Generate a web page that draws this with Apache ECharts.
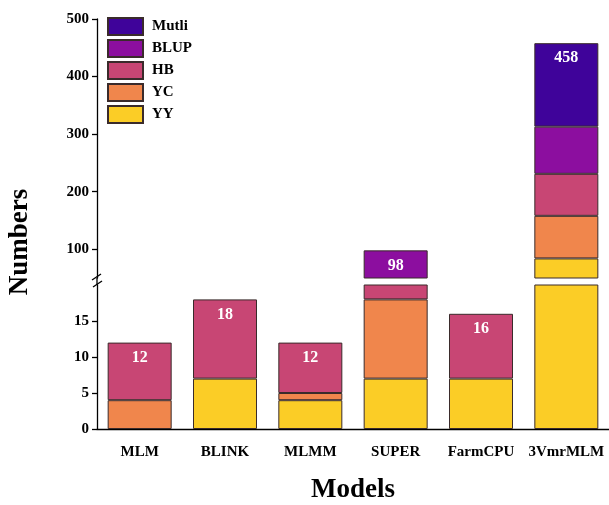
<!DOCTYPE html>
<html>
<head>
<meta charset="utf-8">
<script src="https://cdn.jsdelivr.net/npm/echarts@6/dist/echarts.min.js"></script>
<style>
html,body{margin:0;padding:0;background:#fff;}
#chart{width:609px;height:505px;}
</style>
</head>
<body>
<div id="chart"></div>
<script>
// ---- data ----
var categories = ['MLM', 'BLINK', 'MLMM', 'SUPER', 'FarmCPU', '3VmrMLM'];
var seriesNames = ['YY', 'YC', 'HB', 'BLUP', 'Mutli'];
var YY    = [0, 7, 4, 7, 7, 84];
var YC    = [4, 0, 1, 11, 0, 74];
var HB    = [8, 11, 7, 15, 9, 73];
var BLUP  = [0, 0, 0, 65, 0, 82];
var Mutli = [0, 0, 0, 0, 0, 145];
var lowerTicks = [0, 5, 10, 15];
var lowerMinor = [2.5, 7.5, 12.5, 17.5];
var upperTicks = [100, 200, 300, 400, 500];
var upperMinor = [150, 250, 350, 450];
var legendOrder = ['Mutli', 'BLUP', 'HB', 'YC', 'YY'];

var values = [YY, YC, HB, BLUP, Mutli];
var colors = ['#FBCD26', '#F0864C', '#C84674', '#8C0E9F', '#3F039A'];
var LOWER_MAX = 20;

var totals = categories.map(function (c, i) {
  var s = 0; values.forEach(function (v) { s += v[i]; }); return s;
});
// topmost non-zero series per category
var topSeries = categories.map(function (c, i) {
  var t = 0; values.forEach(function (v, k) { if (v[i] > 0) t = k; }); return t;
});

var font = 'Liberation Serif, Times New Roman, serif';

function buildData(k, lower) {
  return values[k].map(function (v, i) {
    var item = { value: v === 0 ? '-' : v };
    var inThisGrid = lower ? totals[i] <= LOWER_MAX : totals[i] > LOWER_MAX;
    if (topSeries[i] === k && inThisGrid) {
      item.label = {
        show: true, position: 'insideTop', distance: 7,
        formatter: String(totals[i]),
        color: '#fff', fontFamily: font, fontWeight: 'bold', fontSize: 16
      };
    }
    return item;
  });
}

var series = [];
[true, false].forEach(function (lower) {
  seriesNames.forEach(function (name, k) {
    series.push({
      type: 'bar', name: name,
      xAxisIndex: lower ? 0 : 2, yAxisIndex: lower ? 0 : 2,
      stack: lower ? 'lo' : 'hi',
      barWidth: 64, clip: true,
      itemStyle: { color: colors[k], borderColor: '#3a2b2b', borderWidth: 1 },
      emphasis: { disabled: true },
      data: buildData(k, lower)
    });
  });
});

var axisLineStyle = { color: '#000', width: 1.3 };
var tickLabel = { color: '#000', fontFamily: font, fontWeight: 'bold', fontSize: 15 };

var option = {
  animation: false,
  backgroundColor: '#fff',
  legend: {
    data: legendOrder, orient: 'vertical', left: 107, top: 17, padding: 0,
    itemWidth: 35, itemHeight: 17, itemGap: 3, icon: 'rect',
    textStyle: { color: '#000', fontFamily: font, fontWeight: 'bold', fontSize: 15, padding: [0, 0, 0, 4] }
  },
  grid: [
    { left: 97, top: 285, width: 514, height: 148, containLabel: false },
    { left: 97, top: 19, width: 514, height: 259, containLabel: false }
  ],
  xAxis: [
    {
      type: 'category', gridIndex: 0, data: categories,
      axisLine: { lineStyle: axisLineStyle },
      axisTick: { alignWithLabel: true, length: 6, lineStyle: { color: '#000', width: 1.3 } },
      axisLabel: Object.assign({ margin: 16, interval: 0 }, tickLabel),
      name: 'Models', nameLocation: 'middle', nameGap: 48,
      nameTextStyle: { color: '#000', fontFamily: font, fontWeight: 'bold', fontSize: 27 }
    },
    {
      type: 'category', gridIndex: 0, data: categories,
      axisLine: { show: false },
      axisTick: { length: 3, interval: 0, lineStyle: { color: '#000', width: 1.2 } },
      axisLabel: { show: false }
    },
    { type: 'category', gridIndex: 1, data: categories, show: false }
  ],
  yAxis: [
    {
      type: 'value', gridIndex: 0, min: 0, max: LOWER_MAX, interval: 5,
      splitLine: { show: false },
      axisLine: { show: true, lineStyle: axisLineStyle },
      axisTick: { show: true, length: 5, customValues: lowerTicks, lineStyle: { color: '#000', width: 1.3 } },
      axisLabel: Object.assign({ customValues: lowerTicks, margin: 8 }, tickLabel)
    },
    {
      type: 'value', gridIndex: 0, min: 0, max: LOWER_MAX,
      splitLine: { show: false }, axisLine: { show: false },
      axisTick: { show: true, length: 3, customValues: lowerMinor, lineStyle: { color: '#000', width: 1.2 } },
      axisLabel: { show: false }
    },
    {
      type: 'value', gridIndex: 1, min: 50, max: 500,
      splitLine: { show: false },
      axisLine: { show: true, lineStyle: axisLineStyle },
      axisTick: { show: true, length: 5, customValues: upperTicks, lineStyle: { color: '#000', width: 1.3 } },
      axisLabel: Object.assign({ customValues: upperTicks, margin: 8 }, tickLabel)
    },
    {
      type: 'value', gridIndex: 1, min: 50, max: 500,
      splitLine: { show: false }, axisLine: { show: false },
      axisTick: { show: true, length: 3, customValues: upperMinor, lineStyle: { color: '#000', width: 1.2 } },
      axisLabel: { show: false }
    }
  ],
  graphic: [
    { type: 'line', shape: { x1: 97, y1: 278, x2: 97, y2: 285 }, style: { stroke: '#000', lineWidth: 1.3 } },
    { type: 'line', shape: { x1: 92, y1: 280, x2: 101, y2: 274 }, style: { stroke: '#000', lineWidth: 1.4 } },
    { type: 'line', shape: { x1: 93, y1: 287, x2: 102, y2: 281 }, style: { stroke: '#000', lineWidth: 1.4 } },
    {
      type: 'text', x: 20, y: 242, rotation: Math.PI / 2,
      style: { text: 'Numbers', fill: '#000', font: 'bold 27px ' + font, align: 'center', verticalAlign: 'middle' }
    }
  ],
  series: series
};

var chart = echarts.init(document.getElementById('chart'), null, { renderer: 'canvas' });
chart.setOption(option);
</script>
</body>
</html>
